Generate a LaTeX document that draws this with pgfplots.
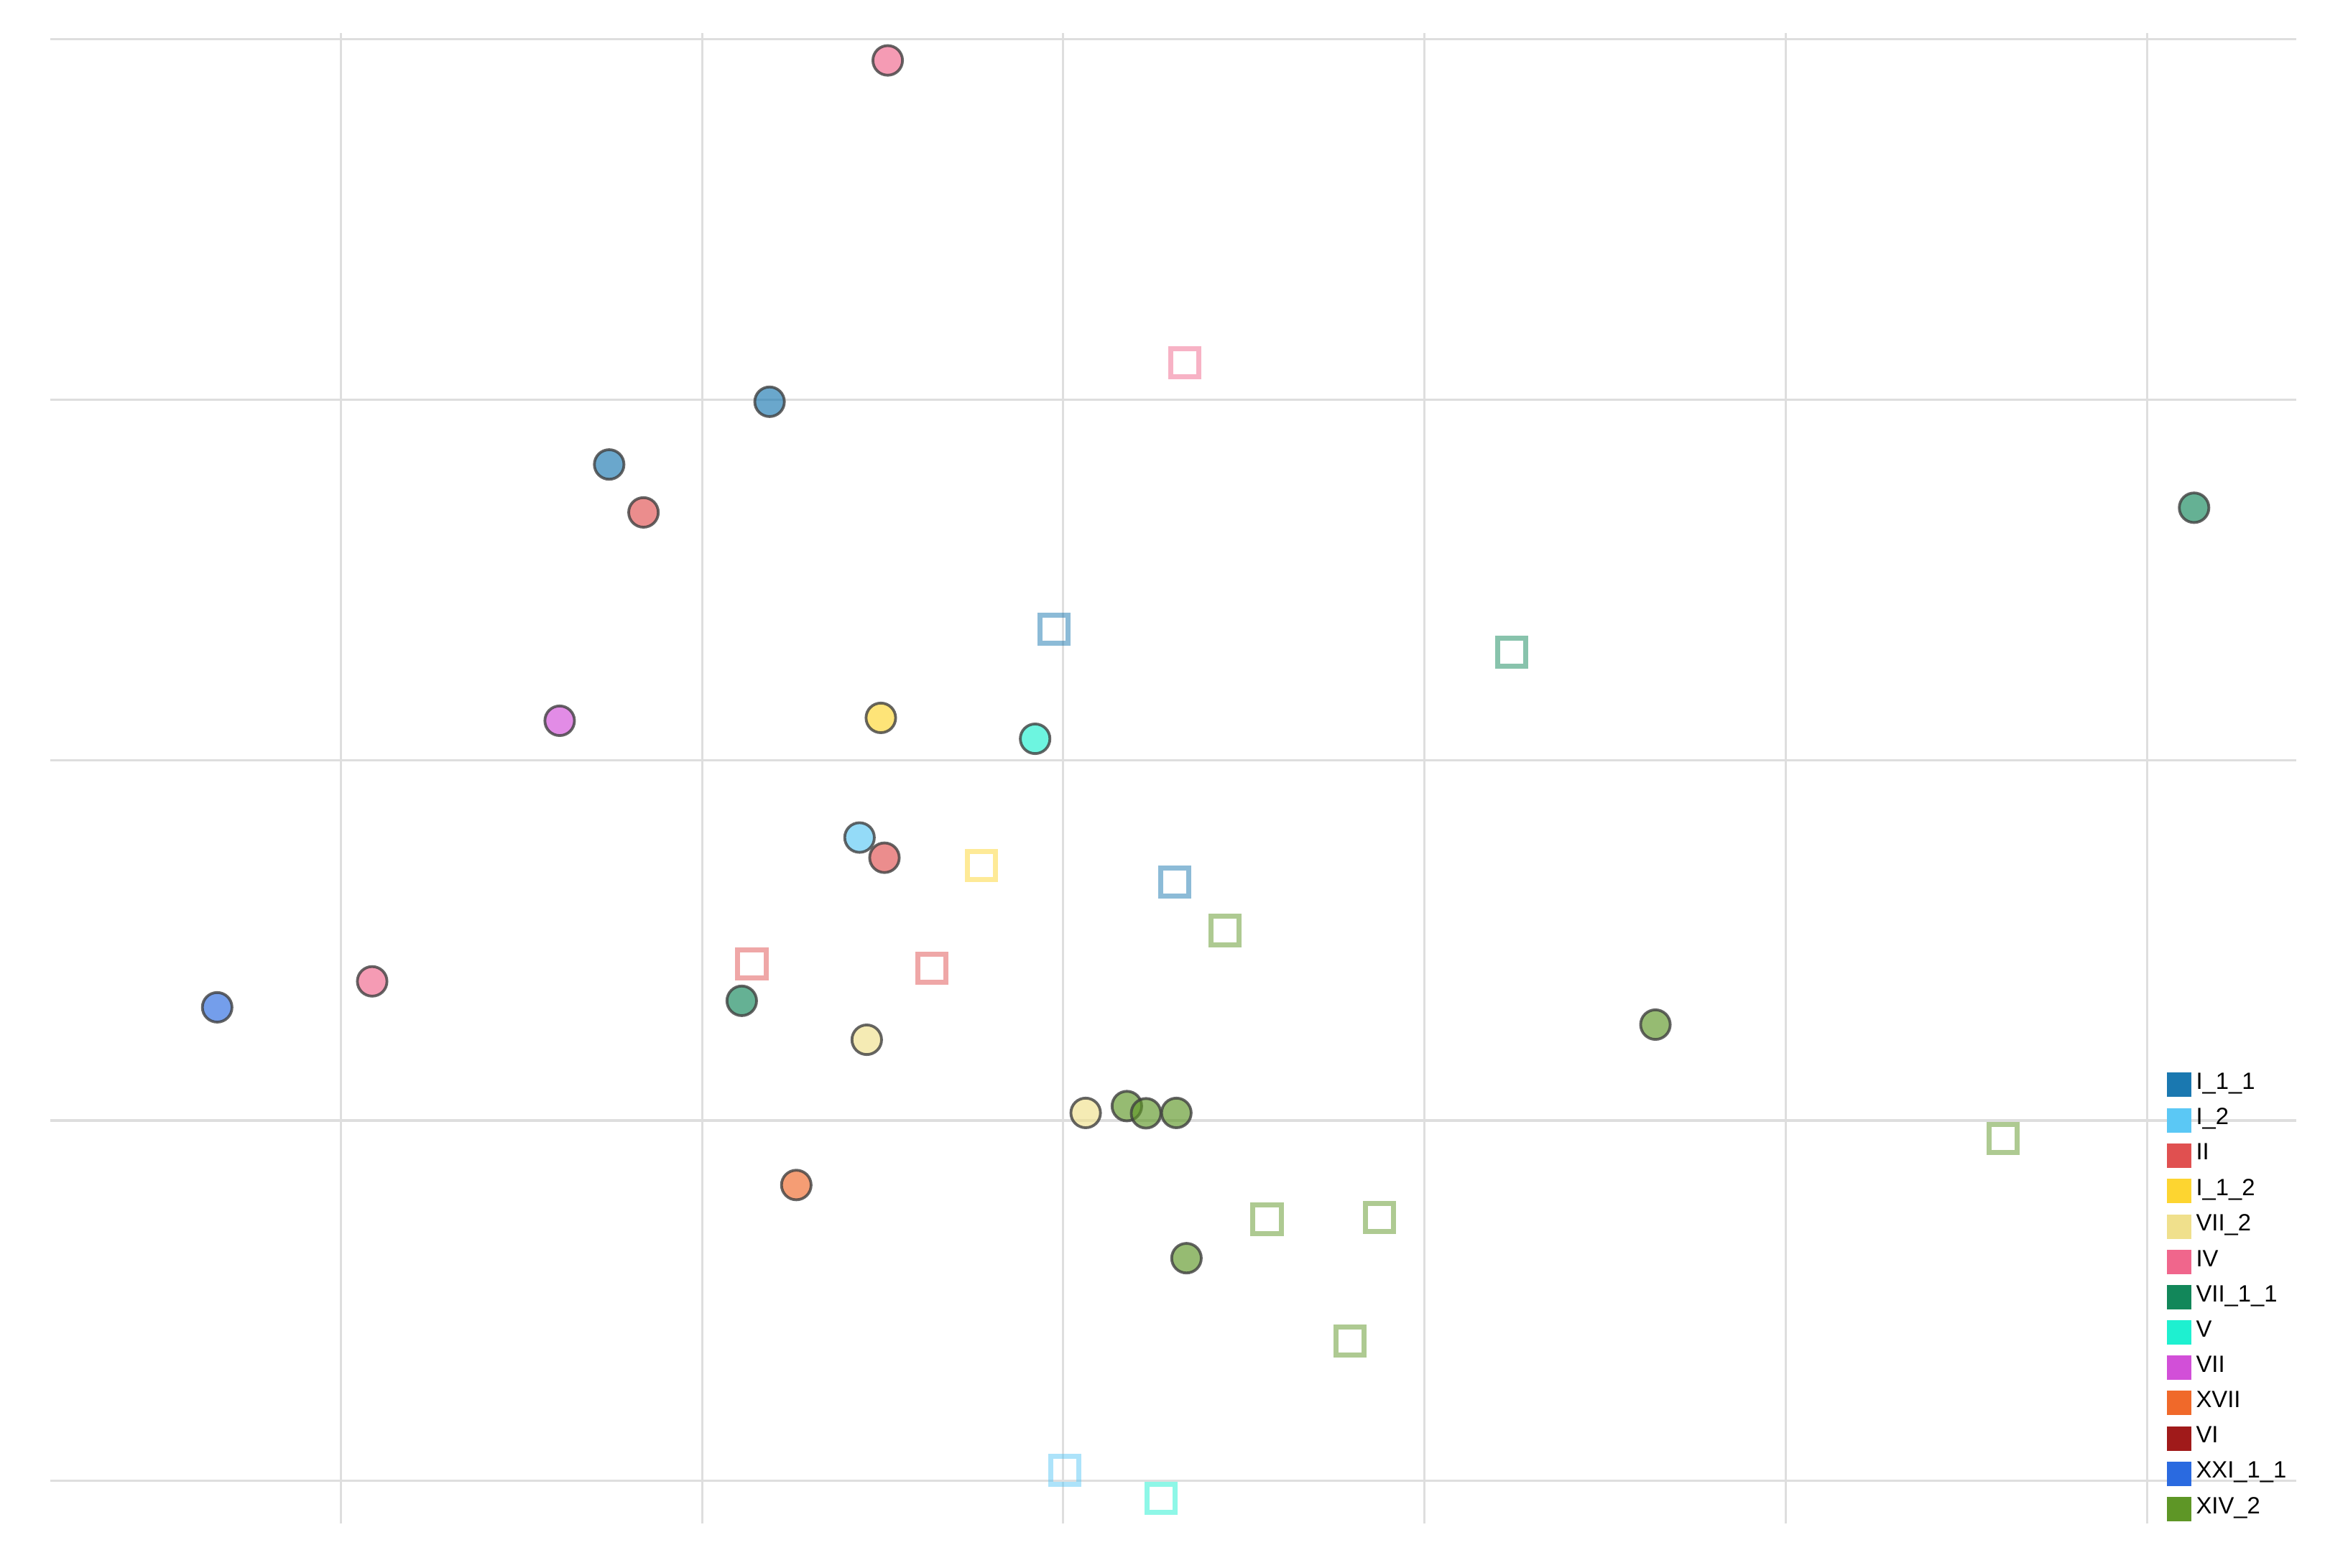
\documentclass[border=0pt]{standalone}
\usepackage{fontspec}
\setmainfont{Liberation Sans}
\usepackage{pgfplots}
\pgfplotsset{compat=1.18}
\definecolor{cI11}{HTML}{1A78B0}
\definecolor{cI2}{HTML}{5BC8F5}
\definecolor{cII}{HTML}{E05050}
\definecolor{cI12}{HTML}{FDD530}
\definecolor{cVIIb}{HTML}{F0E08C}
\definecolor{cIV}{HTML}{F0668C}
\definecolor{cVIIa}{HTML}{12875A}
\definecolor{cV}{HTML}{1EF0D0}
\definecolor{cVII}{HTML}{D24FD8}
\definecolor{cXVII}{HTML}{F0692A}
\definecolor{cVI}{HTML}{A01A1A}
\definecolor{cXXI}{HTML}{2A6AE0}
\definecolor{cXIV}{HTML}{5E9626}
\definecolor{gridgray}{HTML}{DEDEDE}
\begin{document}
\begin{tikzpicture}
\begin{axis}[
  scale only axis,
  width=447.68pt, height=297.16pt,
  xmin=-2.804, xmax=3.413, ymin=-1.118, ymax=3.017,
  xtick={-2,-1,0,1,2,3}, ytick={-1,0,1,2,3},
  xticklabels={}, yticklabels={},
  xmajorgrids, ymajorgrids,
  major grid style={draw=gridgray, line width=0.45pt},
  axis line style={draw=none},
  tick style={draw=none},
  circ/.style={only marks, mark=*, mark size=2.95pt, forget plot,
    mark options={fill=#1, fill opacity=0.65, draw=black!75, draw opacity=0.8, line width=0.55pt, solid}},
  sq/.style={only marks, mark=square, mark size=2.8pt, forget plot,
    mark options={draw=#1, draw opacity=0.5, line width=1pt, solid}},
  legend style={at={(rel axis cs:0.9418,0.3046)}, anchor=north west, draw=none, fill=none,
    inner sep=0pt, font=\fontsize{4.7pt}{5.3pt}\selectfont, row sep=1.3pt, column sep=0.5pt,
    nodes={inner sep=0.5pt}},
  legend cell align=left,
  legend image code/.code={\path[#1, draw=none] (0pt,-2.435pt) rectangle (4.87pt,2.435pt);},
]
% circles
\addplot[circ=cIV] coordinates {(-0.486,2.941) (-1.913,0.386)};
\addplot[circ=cI11] coordinates {(-0.813,1.994) (-1.257,1.820)};
\addplot[circ=cII] coordinates {(-1.162,1.687) (-0.495,0.729)};
\addplot[circ=cVIIa] coordinates {(3.130,1.700) (-0.890,0.332)};
\addplot[circ=cVII] coordinates {(-1.394,1.109)};
\addplot[circ=cI12] coordinates {(-0.505,1.117)};
\addplot[circ=cV] coordinates {(-0.078,1.059)};
\addplot[circ=cI2] coordinates {(-0.564,0.785)};
\addplot[circ=cXXI] coordinates {(-2.342,0.314)};
\addplot[circ=cVIIb] coordinates {(-0.544,0.224) (0.062,0.021)};
\addplot[circ=cXIV] coordinates {(1.639,0.266) (0.176,0.040) (0.229,0.020) (0.313,0.021) (0.341,-0.382)};
\addplot[circ=cXVII] coordinates {(-0.739,-0.179)};
% squares
\addplot[sq=cIV] coordinates {(0.336,2.102)};
\addplot[sq=cI11] coordinates {(-0.025,1.363) (0.308,0.662)};
\addplot[sq=cVIIa] coordinates {(1.241,1.300)};
\addplot[sq=cI12] coordinates {(-0.226,0.707)};
\addplot[sq=cII] coordinates {(-0.862,0.434) (-0.363,0.422)};
\addplot[sq=cXIV] coordinates {(0.448,0.527) (2.602,-0.050) (0.564,-0.274) (0.876,-0.269) (0.793,-0.611)};
\addplot[sq=cI2] coordinates {(0.005,-0.970)};
\addplot[sq=cV] coordinates {(0.270,-1.049)};
% legend
\addlegendimage{fill=cI11}\addlegendentry{I\_1\_1}
\addlegendimage{fill=cI2}\addlegendentry{I\_2}
\addlegendimage{fill=cII}\addlegendentry{II}
\addlegendimage{fill=cI12}\addlegendentry{I\_1\_2}
\addlegendimage{fill=cVIIb}\addlegendentry{VII\_2}
\addlegendimage{fill=cIV}\addlegendentry{IV}
\addlegendimage{fill=cVIIa}\addlegendentry{VII\_1\_1}
\addlegendimage{fill=cV}\addlegendentry{V}
\addlegendimage{fill=cVII}\addlegendentry{VII}
\addlegendimage{fill=cXVII}\addlegendentry{XVII}
\addlegendimage{fill=cVI}\addlegendentry{VI}
\addlegendimage{fill=cXXI}\addlegendentry{XXI\_1\_1}
\addlegendimage{fill=cXIV}\addlegendentry{XIV\_2}
\end{axis}
\pgfresetboundingbox
\path[use as bounding box] ([xshift=-10.02pt,yshift=-8.74pt]current axis.south west) rectangle ([xshift=10.31pt,yshift=6.59pt]current axis.north east);
\end{tikzpicture}
\end{document}
